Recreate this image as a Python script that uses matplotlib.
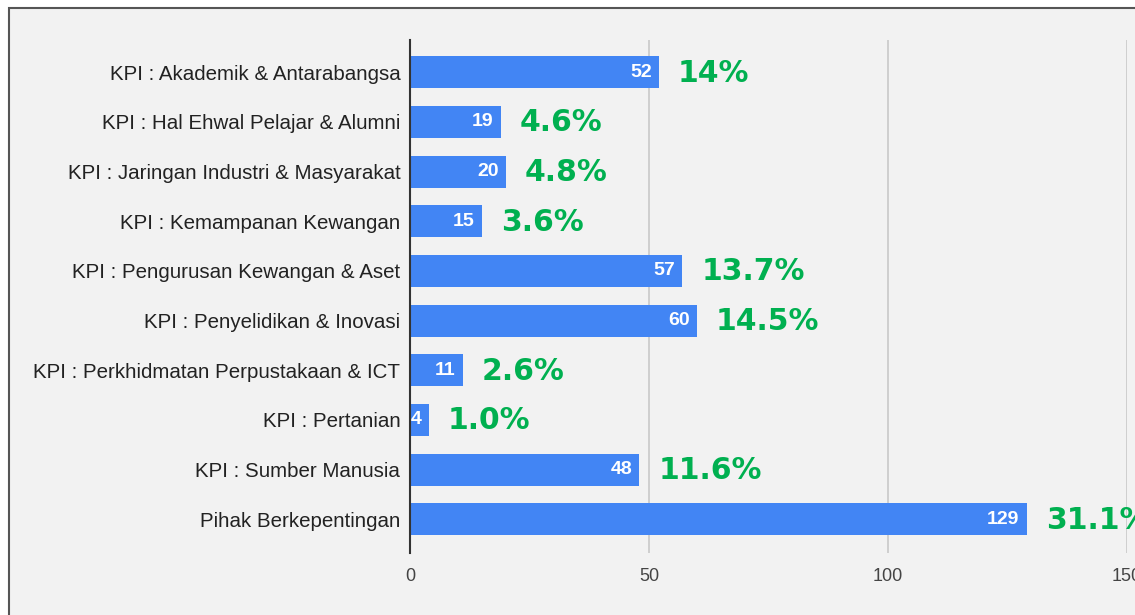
import matplotlib.pyplot as plt
from matplotlib.patches import Rectangle
from matplotlib.transforms import offset_copy

categories = [
    'KPI : Akademik & Antarabangsa',
    'KPI : Hal Ehwal Pelajar & Alumni',
    'KPI : Jaringan Industri & Masyarakat',
    'KPI : Kemampanan Kewangan',
    'KPI : Pengurusan Kewangan & Aset',
    'KPI : Penyelidikan & Inovasi',
    'KPI : Perkhidmatan Perpustakaan & ICT',
    'KPI : Pertanian',
    'KPI : Sumber Manusia',
    'Pihak Berkepentingan',
]
counts = [52, 19, 20, 15, 57, 60, 11, 4, 48, 129]
percent_labels = ['14%', '4.6%', '4.8%', '3.6%', '13.7%', '14.5%', '2.6%', '1.0%', '11.6%', '31.1%']
x_ticks = [0, 50, 100, 150]

BAR_COLOR = '#4285F4'
GREEN = '#00B050'
BG = '#F2F2F2'

W, H = 1135, 615
fig = plt.figure(figsize=(W / 100, H / 100), dpi=100)
fig.patch.set_facecolor('white')

# grey panel with dark frame (only top/left edges are visible in the crop)
frame = Rectangle((9 / W, -0.2), 2.0, (H - 8) / H + 0.2, transform=fig.transFigure,
                  facecolor=BG, edgecolor='#555555', linewidth=1.5, zorder=-10)
fig.patches.append(frame)

# axes: x=0 at px 410, 4.78 px per unit, y from px 40 to 553
px_per_unit = 239 / 50
ax_left = 410 / W
ax_width = 150 * px_per_unit / W
ax_bottom = (H - 553) / H
ax_height = (553 - 40) / H
ax = fig.add_axes([ax_left, ax_bottom, ax_width, ax_height])
ax.set_facecolor('none')

y = list(range(len(categories)))
ax.barh(y, counts, height=0.645, color=BAR_COLOR, zorder=3)

ax.set_xlim(0, 150)
ax.set_ylim(9.68, -0.65)
ax.set_xticks(x_ticks)
ax.set_xticklabels([str(t) for t in x_ticks], fontsize=13, color='#444444',
                   family='Liberation Sans')
ax.set_yticks(y)
ax.set_yticklabels(categories, fontsize=14.8, color='#222222', family='Liberation Sans')
ax.tick_params(axis='both', length=0)
ax.tick_params(axis='y', pad=7)
ax.tick_params(axis='x', pad=11)

for s in ['top', 'right', 'bottom']:
    ax.spines[s].set_visible(False)
ax.spines['left'].set_color('#333333')
ax.spines['left'].set_linewidth(1.5)
ax.spines['left'].set_zorder(4)

ax.grid(axis='x', color='#C8C8C8', linewidth=1.2, zorder=1)
ax.grid(axis='y', visible=False)

inside = offset_copy(ax.transData, fig=fig, x=-7, y=0, units='dots')
outside = offset_copy(ax.transData, fig=fig, x=19, y=-1, units='dots')
for yi, v, p in zip(y, counts, percent_labels):
    ax.text(v, yi, str(v), transform=inside, ha='right', va='center',
            color='white', fontsize=14, fontweight='bold',
            family='Liberation Sans', zorder=5)
    ax.text(v, yi, p, transform=outside, ha='left', va='center',
            color=GREEN, fontsize=21.5, fontweight='bold',
            family='DejaVu Sans', zorder=5, clip_on=False)

fig.savefig('out.png', dpi=100, facecolor=fig.get_facecolor())
